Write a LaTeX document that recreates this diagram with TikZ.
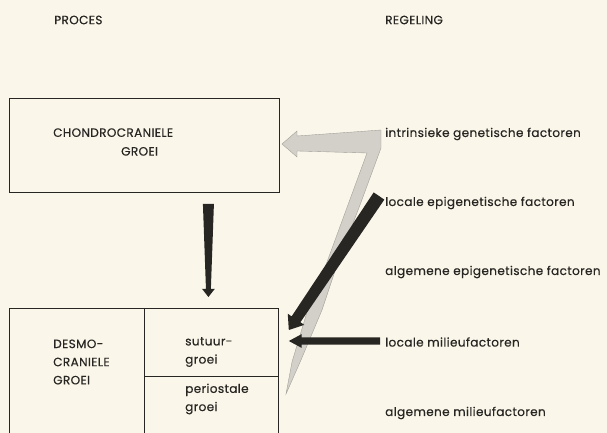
\documentclass[tikz,border=0pt]{standalone}
\usepackage{fontspec}
\setmainfont{Poppins}[LetterSpace=3, FakeBold=0.4]
\usetikzlibrary{calc,positioning}

\definecolor{paper}{RGB}{250,247,234}
\definecolor{ink}{RGB}{40,38,35}
\definecolor{stipple}{RGB}{210,208,200}

% tapered arrow: start, tip, half width at start, half width at head, half head width, head length
\newcommand{\taperarrow}[6]{%
  \path ($(#2)!#6!(#1)$) coordinate (hb);
  \fill[ink] ($(#1)!#3!90:(#2)$) -- ($(hb)!#4!90:(#2)$) -- ($(hb)!#5!90:(#2)$) -- (#2)
    -- ($(hb)!#5!-90:(#2)$) -- ($(hb)!#4!-90:(#2)$) -- ($(#1)!#3!-90:(#2)$) -- cycle;}

\tikzset{
  box/.style={draw=ink, line width=0.7pt, inner sep=0pt},
  txt/.style={text=ink, font=\fontsize{10.3}{15.5}\selectfont, inner sep=0pt, align=left},
  factor/.style={txt, anchor=west},
}

\begin{document}
\begin{tikzpicture}[x=0.03cm, y=-0.03cm]
    \clip (0,0) rectangle (607,433);
    \fill[paper] (0,0) rectangle (607,433);

    \node[txt, anchor=west] (proces) at (54,20) {PROCES};
    \node[txt, anchor=west] (regeling) at (385,20) {REGELING};

    % processes
    \node[box, anchor=north west, minimum width=8.1cm, minimum height=2.82cm] (chondro) at (9,98) {};
    \node[txt, anchor=west, font=\fontsize{10.3}{16}\selectfont] (chondrotxt) at (53,142) {CHONDROCRANIELE\\\hspace*{58pt}GROEI};

    \node[box, anchor=north west, minimum width=8.07cm, minimum height=5cm] (desmo) at (9,308) {};
    \node[box, anchor=north west, minimum width=4.02cm, minimum height=2.04cm] (sutuur) at (144,308) {};
    \node[box, anchor=north west, minimum width=4.02cm, minimum height=3cm] (periost) at (144,376) {};
    \node[txt, anchor=west] (desmotxt) at (53,362) {DESMO-\\CRANIELE\\GROEI};
    \node[txt, anchor=west] (sutuurtxt) at (185,352) {sutuur-\\groei};
    \node[txt, anchor=west] (periosttxt) at (185,399) {periostale\\groei};

    % regulation
    \node[factor] (intgen) at (385,134) {intrinsieke genetische factoren};
    \node[factor] (locepi) at (385,203) {locale epigenetische factoren};
    \node[factor] (algepi) at (385,272) {algemene epigenetische factoren};
    \node[factor] (locmil) at (385,342) {locale milieufactoren};
    \node[factor] (algmil) at (385,413) {algemene milieufactoren};

    % stippled 7
    \filldraw[fill=stipple, draw=stipple!75!black, line width=0.3pt]
      (286,394) -- (292,362) -- (307,312) -- (327,262) -- (367,153) -- (297,151)
      -- (297,157) -- (282,144) -- (297,131) -- (297,136) -- (381,130)
      -- (381,148) -- (360,205) -- (338,262) -- (322,310) -- (301,360) -- cycle;

    \coordinate (dnA) at ($(chondro.south)+(64,11)$);
    \coordinate (dnB) at ($(desmo.north)+(64.5,-11)$);
    \taperarrow{dnA}{dnB}{4.7pt}{2.1pt}{5.5pt}{7pt}

    \coordinate (epiA) at ($(locepi.west)+(-6,-7)$);
    \coordinate (epiB) at ($(sutuur.north east)+(10,22)$);
    \taperarrow{epiA}{epiB}{5.5pt}{4.5pt}{8.5pt}{11pt}

    \coordinate (milA) at ($(locmil.west)+(-5,-1)$);
    \coordinate (milB) at ($(sutuur.east |- locmil.west)+(10,-1)$);
    \taperarrow{milA}{milB}{3.1pt}{3.1pt}{5.9pt}{11pt}
\end{tikzpicture}
\end{document}
